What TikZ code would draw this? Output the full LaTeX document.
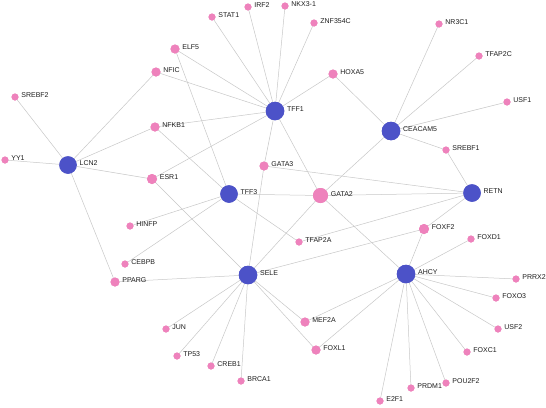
\documentclass[tikz,border=0pt]{standalone}
\usepackage{fontspec}
\setmainfont{Liberation Sans}
\begin{document}
\begin{tikzpicture}[x=1pt,y=-1pt,
  hub/.style={circle,fill=hubblue,draw=none,minimum size=18.5pt,inner sep=0pt},
  hubs/.style={hub,minimum size=17.5pt},
  tf/.style={circle,fill=tfpink,draw=none,minimum size=7pt,inner sep=0pt},
  tfm/.style={tf,minimum size=9pt},
  tfl/.style={tf,minimum size=10pt},
  tfx/.style={tf,minimum size=15pt},
  lbl/.style={anchor=west,font=\fontsize{7}{8}\selectfont,text=labelgray,inner sep=0pt,xshift=2.5pt,yshift=1.8pt},
  edge/.style={draw=edgegray,line width=0.5pt}]
\definecolor{hubblue}{RGB}{76,82,200}
\definecolor{tfpink}{RGB}{238,130,188}
\definecolor{edgegray}{RGB}{200,200,200}
\definecolor{labelgray}{RGB}{30,30,30}
\useasboundingbox[fill=white] (0,0) rectangle (546,407);
% hubs
\node[hubs] (LCN2) at (68,165) {};
\node[hub] (TFF1) at (275,111) {};
\node[hubs] (TFF3) at (229,194) {};
\node[hub] (SELE) at (248,275) {};
\node[hub] (AHCY) at (406,274) {};
\node[hub] (CEACAM5) at (391,131) {};
\node[hubs] (RETN) at (472,193) {};
% TFs
\node[tf] (STAT1) at (212,17) {};
\node[tf] (IRF2) at (248,7) {};
\node[tf] (NKX31) at (285,6) {};
\node[tf] (ZNF354C) at (314,23) {};
\node[tfm] (ELF5) at (175,49) {};
\node[tfm] (NFIC) at (156,72) {};
\node[tf] (SREBF2) at (15,97) {};
\node[tfm] (NFKB1) at (155,127) {};
\node[tf] (YY1) at (5,160) {};
\node[tfl] (ESR1) at (152,179) {};
\node[tfm] (GATA3) at (264,166) {};
\node[tfx] (GATA2) at (320.5,195.5) {};
\node[tfm] (HOXA5) at (333,74) {};
\node[tf] (NR3C1) at (439,24) {};
\node[tf] (TFAP2C) at (479,56) {};
\node[tf] (USF1) at (507,102) {};
\node[tf] (SREBF1) at (446,150) {};
\node[tf] (HINFP) at (130,226) {};
\node[tf] (CEBPB) at (125,264) {};
\node[tfm] (PPARG) at (115,282) {};
\node[tf] (TFAP2A) at (299,242) {};
\node[tfl] (FOXF2) at (424,229) {};
\node[tf] (FOXD1) at (471,239) {};
\node[tf] (PRRX2) at (516,279) {};
\node[tf] (FOXO3) at (496,298) {};
\node[tfm] (MEF2A) at (305,322) {};
\node[tf] (USF2) at (498,329) {};
\node[tfm] (FOXL1) at (316,350) {};
\node[tf] (FOXC1) at (467,352) {};
\node[tf] (POU2F2) at (446,383) {};
\node[tf] (PRDM1) at (411,388) {};
\node[tf] (E2F1) at (380,401) {};
\node[tf] (JUN) at (166,329) {};
\node[tf] (TP53) at (177,356) {};
\node[tf] (CREB1) at (211,366) {};
\node[tf] (BRCA1) at (241,381) {};
% edges
\foreach \a/\b in {
  TFF1/STAT1,TFF1/IRF2,TFF1/NKX31,TFF1/ZNF354C,TFF1/ELF5,TFF1/NFIC,TFF1/NFKB1,TFF1/ESR1,TFF1/HOXA5,TFF1/GATA3,TFF1/GATA2,
  LCN2/SREBF2,LCN2/YY1,LCN2/NFIC,LCN2/NFKB1,LCN2/ESR1,LCN2/PPARG,
  TFF3/ELF5,TFF3/NFKB1,TFF3/GATA2,TFF3/HINFP,TFF3/CEBPB,TFF3/TFAP2A,
  SELE/ESR1,SELE/GATA3,SELE/GATA2,SELE/PPARG,SELE/JUN,SELE/TP53,SELE/CREB1,SELE/BRCA1,SELE/MEF2A,SELE/FOXL1,SELE/FOXF2,
  CEACAM5/HOXA5,CEACAM5/NR3C1,CEACAM5/TFAP2C,CEACAM5/USF1,CEACAM5/SREBF1,CEACAM5/GATA2,
  RETN/SREBF1,RETN/GATA3,RETN/GATA2,RETN/TFAP2A,RETN/FOXF2,
  AHCY/GATA2,AHCY/FOXF2,AHCY/FOXD1,AHCY/PRRX2,AHCY/FOXO3,AHCY/USF2,AHCY/FOXC1,AHCY/POU2F2,AHCY/PRDM1,AHCY/E2F1,AHCY/MEF2A,AHCY/FOXL1}
  {\path[edge] (\a.center) -- (\b.center);}
% redraw nodes on top of the connectors
\foreach \n/\s in {LCN2/hubs,TFF1/hub,TFF3/hubs,SELE/hub,AHCY/hub,CEACAM5/hub,RETN/hubs,
  STAT1/tf,IRF2/tf,NKX31/tf,ZNF354C/tf,ELF5/tfm,NFIC/tfm,SREBF2/tf,NFKB1/tfm,YY1/tf,ESR1/tfl,GATA3/tfm,GATA2/tfx,HOXA5/tfm,
  NR3C1/tf,TFAP2C/tf,USF1/tf,SREBF1/tf,HINFP/tf,CEBPB/tf,PPARG/tfm,TFAP2A/tf,FOXF2/tfl,FOXD1/tf,PRRX2/tf,FOXO3/tf,MEF2A/tfm,
  USF2/tf,FOXL1/tfm,FOXC1/tf,POU2F2/tf,PRDM1/tf,E2F1/tf,JUN/tf,TP53/tf,CREB1/tf,BRCA1/tf}
  {\node[\s] at (\n.center) {};}
% labels
\foreach \n/\t in {LCN2/LCN2,TFF1/TFF1,TFF3/TFF3,SELE/SELE,AHCY/AHCY,CEACAM5/CEACAM5,RETN/RETN,
  STAT1/STAT1,IRF2/IRF2,NKX31/NKX3-1,ZNF354C/ZNF354C,ELF5/ELF5,NFIC/NFIC,SREBF2/SREBF2,NFKB1/NFKB1,YY1/YY1,ESR1/ESR1,GATA3/GATA3,GATA2/GATA2,HOXA5/HOXA5,
  NR3C1/NR3C1,TFAP2C/TFAP2C,USF1/USF1,SREBF1/SREBF1,HINFP/HINFP,CEBPB/CEBPB,PPARG/PPARG,TFAP2A/TFAP2A,FOXF2/FOXF2,FOXD1/FOXD1,PRRX2/PRRX2,FOXO3/FOXO3,MEF2A/MEF2A,
  USF2/USF2,FOXL1/FOXL1,FOXC1/FOXC1,POU2F2/POU2F2,PRDM1/PRDM1,E2F1/E2F1,JUN/JUN,TP53/TP53,CREB1/CREB1,BRCA1/BRCA1}
  {\node[lbl] (l-\n) at (\n.east) {\t};}
\end{tikzpicture}
\end{document}
